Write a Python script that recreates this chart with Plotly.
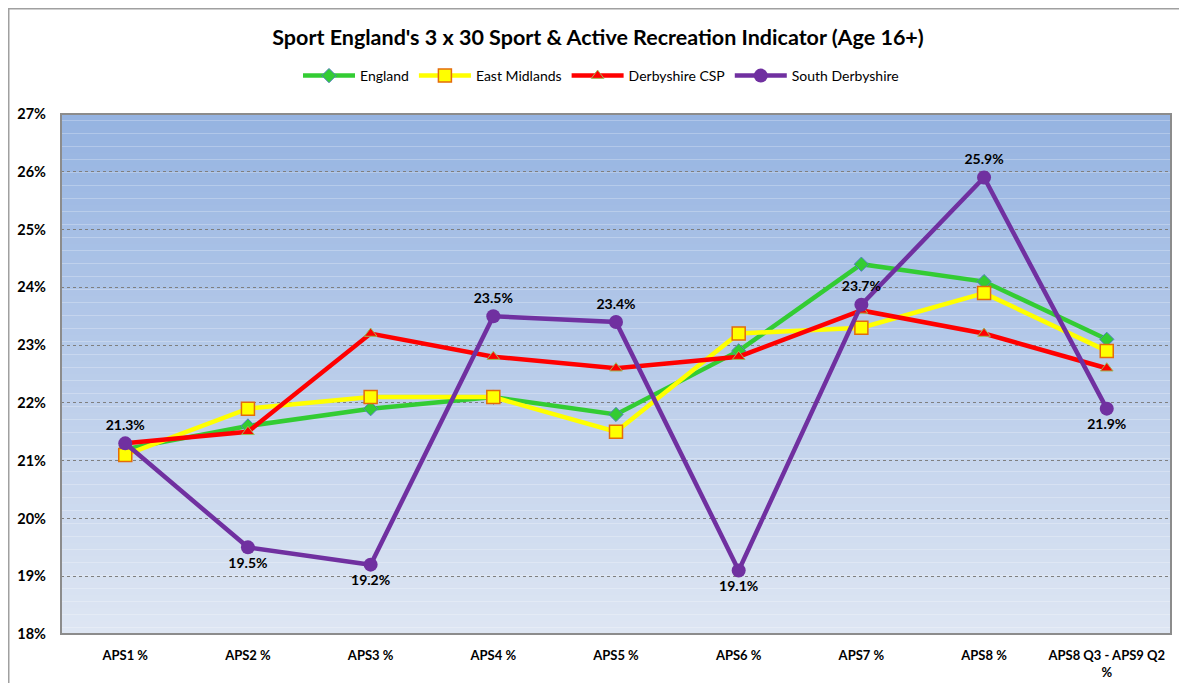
import plotly.graph_objects as go

categories = ["APS1 %", "APS2 %", "APS3 %", "APS4 %", "APS5 %", "APS6 %", "APS7 %", "APS8 %", "APS8 Q3 - APS9 Q2<br>%"]
england = [21.2, 21.6, 21.9, 22.1, 21.8, 22.9, 24.4, 24.1, 23.1]
east_midlands = [21.1, 21.9, 22.1, 22.1, 21.5, 23.2, 23.3, 23.9, 22.9]
derbyshire_csp = [21.3, 21.5, 23.2, 22.8, 22.6, 22.8, 23.6, 23.2, 22.6]
south_derbyshire = [21.3, 19.5, 19.2, 23.5, 23.4, 19.1, 23.7, 25.9, 21.9]
sd_label_pos = ["top center", "bottom center", "bottom center", "top center", "top center",
                "bottom center", "top center", "top center", "bottom center"]
y_ticks = [18, 19, 20, 21, 22, 23, 24, 25, 26, 27]

FONT = "Lato"
W, H = 1171, 675
ML, MR, MT, MB = 53, 8, 106, 49
PW, PH = W - ML - MR, H - MT - MB

fig = go.Figure()

fig.add_trace(go.Scatter(
    x=categories, y=england, name="England", mode="lines+markers",
    line=dict(color="#33CC33", width=4.5),
    marker=dict(symbol="diamond", size=11, color="#33CC33", line=dict(color="#4F81BD", width=1)),
))
fig.add_trace(go.Scatter(
    x=categories, y=east_midlands, name="East Midlands", mode="lines+markers",
    line=dict(color="#FFFF00", width=4.5),
    marker=dict(symbol="square", size=13, color="#FFFF00", line=dict(color="#E46C0A", width=1.5)),
))
fig.add_trace(go.Scatter(
    x=categories, y=derbyshire_csp, name="Derbyshire CSP", mode="lines+markers",
    line=dict(color="#FF0000", width=4.5),
    marker=dict(symbol="triangle-up", size=11, color="#FF0000", line=dict(color="#9BBB59", width=1)),
))
fig.add_trace(go.Scatter(
    x=categories, y=south_derbyshire, name="South Derbyshire", mode="lines+markers+text",
    line=dict(color="#7030A0", width=4.5),
    marker=dict(symbol="circle", size=14, color="#7030A0"),
    text=[f"{v:.1f}%" for v in south_derbyshire],
    textposition=sd_label_pos,
    textfont=dict(family=FONT, size=14, color="#000000", weight="bold"),
    cliponaxis=False,
))

# gradient background for plot area
shapes = []
n = 80
top = (149, 179, 225)
bot = (222, 230, 243)
for i in range(n):
    t = i / (n - 1)
    c = tuple(round(bot[k] + (top[k] - bot[k]) * t) for k in range(3))
    shapes.append(dict(type="rect", xref="x domain", yref="y domain",
                       x0=0, x1=1, y0=i / n, y1=(i + 1) / n,
                       fillcolor=f"rgb{c}", line=dict(width=0), layer="below"))
# plot border
shapes.append(dict(type="rect", xref="x domain", yref="y domain", x0=0, x1=1, y0=0, y1=1,
                   line=dict(color="#8C8C8C", width=2), layer="above"))
# outer chart border (top & left visible, right & bottom beyond view)
shapes.append(dict(type="rect", xref="paper", yref="paper",
                   x0=(0.5 - ML) / PW, x1=(W + 20 - ML) / PW,
                   y0=-(MB + 20) / PH, y1=(MT - 0.5) / PH + 1,
                   line=dict(color="#A0A0A0", width=2), layer="below"))

fig.update_layout(
    width=W, height=H,
    margin=dict(l=ML, r=MR, t=MT, b=MB, autoexpand=False),
    paper_bgcolor="white",
    plot_bgcolor="rgba(0,0,0,0)",
    shapes=shapes,
    title=dict(text="Sport England's 3 x 30 Sport & Active Recreation Indicator (Age 16+)",
               x=(598 - 8) / W, xanchor="center", y=1 - 29 / H, yanchor="middle",
               font=dict(family=FONT, size=21.5, color="#000000", weight="bold")),
    legend=dict(orientation="h", x=(601 - 8 - ML) / PW, xanchor="center",
                y=1 + (MT - 68) / PH, yanchor="middle",
                font=dict(family=FONT, size=14, color="#000000"),
                itemwidth=52, tracegroupgap=0, bgcolor="rgba(0,0,0,0)"),
    showlegend=True,
)

fig.update_xaxes(
    type="category", showgrid=False, zeroline=False, showline=False, automargin=False,
    tickfont=dict(family=FONT, size=13, color="#000000", weight="bold"),
    ticks="", ticklabelstandoff=12,
)
fig.update_yaxes(
    range=[18, 27], tickvals=y_ticks, ticktext=[f"{v}%" for v in y_ticks],
    showgrid=True, gridcolor="#7F7F7F", griddash="dot", gridwidth=1, automargin=False,
    zeroline=False, showline=False, ticks="",
    tickfont=dict(family=FONT, size=14.5, color="#000000", weight="bold"),
    ticklabelstandoff=14,
)

fig.write_html("out.html")
